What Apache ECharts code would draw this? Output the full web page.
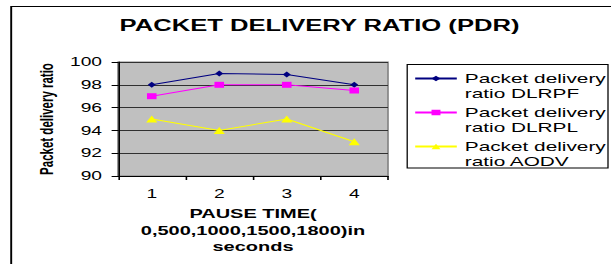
<!DOCTYPE html>
<html>
<head>
<meta charset="utf-8">
<script src="https://cdn.jsdelivr.net/npm/echarts@6/dist/echarts.min.js"></script>
<style>
  html, body { margin: 0; padding: 0; background: #fff; overflow: hidden; }
  #wrap { width: 611px; height: 264px; overflow: hidden; }
  /* the source picture is a chart stretched sideways, so draw narrow and widen it */
  #pdr-chart { width: 381.875px; height: 264px; transform: scaleX(1.6); transform-origin: 0 0; }
</style>
</head>
<body>
<div id="wrap"><div id="pdr-chart"></div></div>
<script>
const pauseCats = ['1', '2', '3', '4'];
const dlrpf = [98, 99, 98.9, 98];
const dlrpl = [97, 98, 98, 97.5];
const aodv = [95, 94, 95, 93];
const seriesNames = ['Packet delivery ratio DLRPF', 'Packet delivery ratio DLRPL', 'Packet delivery ratio AODV'];

const font = 'Arial, "Liberation Sans", sans-serif';

const elem = document.getElementById('pdr-chart');
const myChart = echarts.init(elem, null, { renderer: 'svg' });

function lineSeries(name, data, color, symbol, size) {
    return {
        name: name,
        type: 'line',
        data: data,
        symbol: symbol,
        symbolSize: size,
        lineStyle: { color: color, width: 1 },
        itemStyle: { color: color },
        emphasis: { disabled: true }
    };
}

myChart.setOption({
    animation: false,
    backgroundColor: '#fff',
    graphic: [{
        type: 'rect',
        shape: { x: 7, y: 6.5, width: 500, height: 300 },
        style: { fill: 'none', stroke: '#000', lineWidth: 1.2 },
        silent: true
    }, {
        // legend frame
        type: 'rect',
        shape: { x: 254.5, y: 64.5, width: 125.5, height: 103.5 },
        style: { fill: 'none', stroke: '#000', lineWidth: 0.8 },
        silent: true
    }],
    title: {
        text: 'PACKET DELIVERY RATIO (PDR)',
        left: 194.7,
        textAlign: 'center',
        top: 13,
        textStyle: { fontFamily: font, fontSize: 16, fontWeight: 'bold', color: '#000' }
    },
    grid: {
        left: 73.75, top: 62, width: 168.75, height: 114,
        show: true,
        backgroundColor: '#c0c0c0',
        borderColor: '#808080',
        borderWidth: 1
    },
    legend: {
        orient: 'vertical',
        left: 254.5, top: 56,
        padding: [0, 0, 0, 4],
        itemGap: -11,
        itemWidth: 26,
        itemHeight: 7,
        textStyle: { fontFamily: font, fontSize: 13, color: '#000', lineHeight: 15 },
        // empty first line keeps the marker level with the first text line
        formatter: function (n) { return '\n' + n.replace('ratio ', '\nratio '); },
        data: seriesNames
    },
    xAxis: {
        type: 'category',
        data: pauseCats,
        boundaryGap: true,
        name: 'PAUSE TIME(\n0,500,1000,1500,1800)in\nseconds',
        nameLocation: 'middle',
        nameGap: 30,
        nameTextStyle: { fontFamily: font, fontSize: 12.5, fontWeight: 'bold', color: '#000', lineHeight: 16.5, verticalAlign: 'top' },
        axisLine: { lineStyle: { color: '#000', width: 1 } },
        axisTick: { show: true, length: 4, lineStyle: { color: '#000' } },
        axisLabel: { fontFamily: font, fontSize: 12, color: '#000', margin: 12 },
        splitLine: { show: false }
    },
    yAxis: {
        type: 'value',
        min: 90, max: 100, interval: 2,
        name: 'Packet delivery ratio',
        nameLocation: 'middle',
        nameGap: 39,
        nameTextStyle: { fontFamily: font, fontSize: 11.5, fontWeight: 'bold', color: '#000' },
        axisLine: { show: true, lineStyle: { color: '#000', width: 1 } },
        axisTick: { show: true, length: 4, lineStyle: { color: '#000' } },
        axisLabel: { fontFamily: font, fontSize: 12, color: '#000', margin: 10 },
        splitLine: { show: true, lineStyle: { color: '#303030', width: 1 } }
    },
    series: [
        lineSeries(seriesNames[0], dlrpf, '#000080', 'diamond', [5, 6]),
        lineSeries(seriesNames[1], dlrpl, '#ff00ff', 'rect', [6, 6]),
        lineSeries(seriesNames[2], aodv, '#ffff00', 'triangle', [7, 7])
    ]
});

window.addEventListener('resize', function () {
    myChart.resize();
});
</script>
</body>
</html>
